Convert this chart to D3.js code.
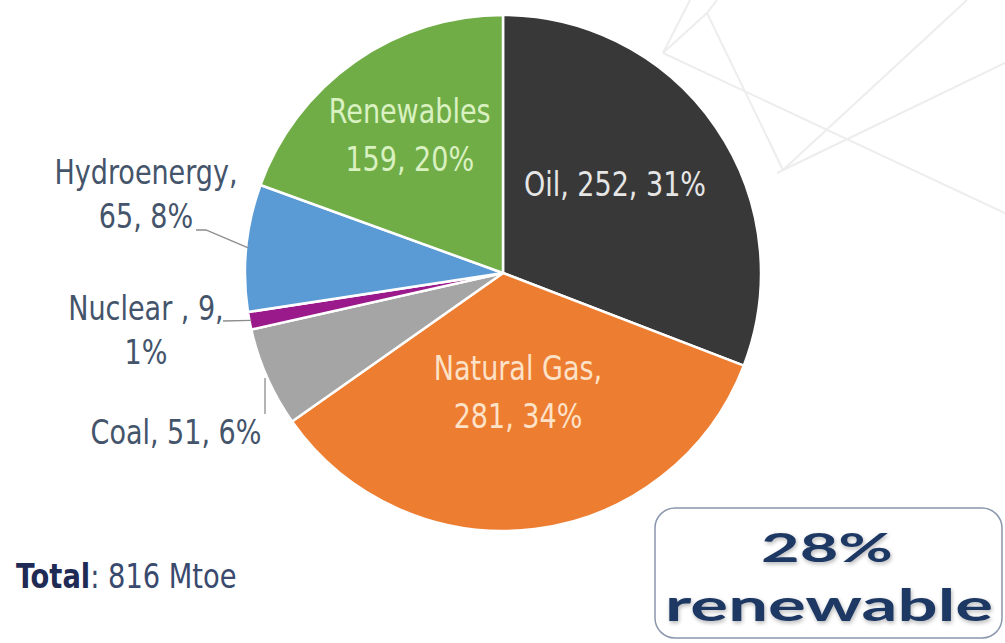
<!DOCTYPE html>
<html>
<head>
<meta charset="utf-8">
<script src="https://cdn.jsdelivr.net/npm/d3@7/dist/d3.min.js"></script>
<style>
  html, body { margin: 0; padding: 0; background: #ffffff; }
  svg { display: block; }
  .cond { font-family: "DejaVu Sans Condensed", "Liberation Sans Narrow", "Roboto", sans-serif; font-stretch: condensed; }
</style>
</head>
<body>
<svg id="chart" width="1005" height="643"></svg>
<script>
// Primary energy supply by source (Mtoe)
const categories = ["Oil", "Natural Gas", "Coal", "Nuclear", "Hydroenergy", "Renewables"];
const values = [252, 281, 51, 9, 65, 159];
const percents = ["31%", "34%", "6%", "1%", "8%", "20%"];
const colors = ["#383838", "#ed7d31", "#a5a5a5", "#9a1a8c", "#5b9bd5", "#70ad47"];
const totalLabel = "816 Mtoe";
const renewableShare = "28%";

const cx = 503, cy = 273, R = 258;
const FONT = 33, SX = 0.91; // tall, narrow label type

const svg = d3.select("#chart");

// faint decorative lines in the upper right background
const deco = [
  [[663, 53], [1005, 213]],
  [[707, 13], [783, 170]],
  [[783, 170], [967, 0]],
  [[777, 173], [1005, 63]],
  [[663, 53], [707, 13]],
  [[663, 53], [690, 0]],
  [[707, 13], [717, 0]]
];
svg.append("g").selectAll("line").data(deco).join("line")
  .attr("x1", d => d[0][0]).attr("y1", d => d[0][1])
  .attr("x2", d => d[1][0]).attr("y2", d => d[1][1])
  .attr("stroke", "#ededed").attr("stroke-width", 2);

const pie = d3.pie().sort(null).value(d => d.value);
const data = categories.map((c, i) => ({ name: c, value: values[i], pct: percents[i], color: colors[i] }));
const arcs = pie(data);
const arc = d3.arc().innerRadius(0).outerRadius(R);

const g = svg.append("g").attr("transform", `translate(${cx},${cy})`);
g.selectAll("path").data(arcs).join("path")
  .attr("d", arc)
  .attr("fill", d => d.data.color)
  .attr("stroke", "#ffffff")
  .attr("stroke-width", 2.5)
  .attr("stroke-linejoin", "round");

const mid = d => (d.startAngle + d.endAngle) / 2;
const polar = (a, r) => [r * Math.sin(a), -r * Math.cos(a)];

// multi-line, horizontally condensed text block centred on x; first baseline at y
function condensedText(parent, x, y, lines, gap, fill, size) {
  const grp = parent.append("g").attr("transform", `translate(${x},${y}) scale(${SX},1)`);
  const t = grp.append("text").attr("class", "cond")
    .attr("text-anchor", "middle").attr("font-size", size || FONT).attr("fill", fill);
  lines.forEach((s, i) => t.append("tspan").attr("x", 0).attr("y", i * gap).text(s));
  return t;
}

// labels placed inside the large slices
const inside = {
  "Oil": { r: 154, dx: -15, fill: "#e6e6e6", lines: d => [`Oil, ${d.data.value}, ${d.data.pct}`] },
  "Natural Gas": { r: 122, dx: 0, fill: "#fde2c8", lines: d => ["Natural Gas,", `${d.data.value}, ${d.data.pct}`] },
  "Renewables": { r: 166, dx: 2, fill: "#daf1c2", lines: d => ["Renewables", `${d.data.value}, ${d.data.pct}`] }
};
const lineGap = 48;
arcs.filter(d => inside[d.data.name]).forEach(d => {
  const cfg = inside[d.data.name];
  const [x, y] = polar(mid(d), cfg.r);
  const lines = cfg.lines(d);
  condensedText(g, x + cfg.dx, y + 10 - (lines.length - 1) / 2 * lineGap, lines, lineGap, cfg.fill);
});

// labels outside the small slices, with leader lines
const outside = {
  "Hydroenergy": { tx: 146, ty: 184, lines: d => [`${d.data.name},`, `${d.data.value}, ${d.data.pct}`],
                   leader: e => [[196, 230], [206, 230], e] },
  "Nuclear": { tx: 146, ty: 320, lines: d => [`${d.data.name} , ${d.data.value},`, d.data.pct],
               leader: e => [[223, 321], e] },
  "Coal": { tx: 176, ty: 444, lines: d => [`${d.data.name}, ${d.data.value}, ${d.data.pct}`],
            leader: () => [[265, 414], [265, 378]] }
};
arcs.filter(d => outside[d.data.name]).forEach(d => {
  const cfg = outside[d.data.name];
  const [ex, ey] = polar(mid(d), R - 2);
  const pts = cfg.leader([ex + cx, ey + cy]);
  svg.append("polyline")
    .attr("points", pts.map(p => p.join(",")).join(" "))
    .attr("fill", "none").attr("stroke", "#8c8c8c").attr("stroke-width", 1.3);
  condensedText(svg, cfg.tx, cfg.ty, cfg.lines(d), 44, "#44546a");
});

// total
const totG = svg.append("g").attr("transform", `translate(16,588) scale(0.92,1)`);
const tot = totG.append("text").attr("class", "cond")
  .attr("x", 0).attr("y", 0).attr("font-size", 33).attr("fill", "#3a4a6e");
tot.append("tspan").attr("font-weight", "bold").attr("fill", "#1f2b55").text("Total");
tot.append("tspan").text(": " + totalLabel);

// renewable share callout
const defs = svg.append("defs");
const sh = defs.append("filter").attr("id", "soft").attr("x", "-10%").attr("y", "-20%").attr("width", "120%").attr("height", "140%");
sh.append("feGaussianBlur").attr("in", "SourceAlpha").attr("stdDeviation", 2).attr("result", "b");
sh.append("feOffset").attr("in", "b").attr("dx", 1).attr("dy", 2).attr("result", "o");
sh.append("feComponentTransfer").attr("in", "o").attr("result", "s")
  .append("feFuncA").attr("type", "linear").attr("slope", 0.3);
const mg = sh.append("feMerge");
mg.append("feMergeNode").attr("in", "s");
mg.append("feMergeNode").attr("in", "SourceGraphic");

svg.append("rect")
  .attr("x", 655).attr("y", 508).attr("width", 347).attr("height", 130)
  .attr("rx", 20).attr("ry", 20)
  .attr("fill", "#ffffff").attr("stroke", "#8a97ad").attr("stroke-width", 1.5);
svg.append("text")
  .attr("x", 827).attr("y", 562).attr("text-anchor", "middle")
  .attr("font-family", "Lato, 'Open Sans', sans-serif").attr("font-weight", "bold")
  .attr("font-size", 41).attr("fill", "#1f3864").attr("filter", "url(#soft)")
  .attr("textLength", 132).attr("lengthAdjust", "spacingAndGlyphs")
  .text(renewableShare);
svg.append("text")
  .attr("x", 829).attr("y", 621).attr("text-anchor", "middle")
  .attr("font-family", "Lato, 'Open Sans', sans-serif").attr("font-weight", "bold")
  .attr("font-size", 43).attr("fill", "#1f3864").attr("filter", "url(#soft)")
  .attr("textLength", 328).attr("lengthAdjust", "spacingAndGlyphs")
  .text("renewable");
</script>
</body>
</html>
